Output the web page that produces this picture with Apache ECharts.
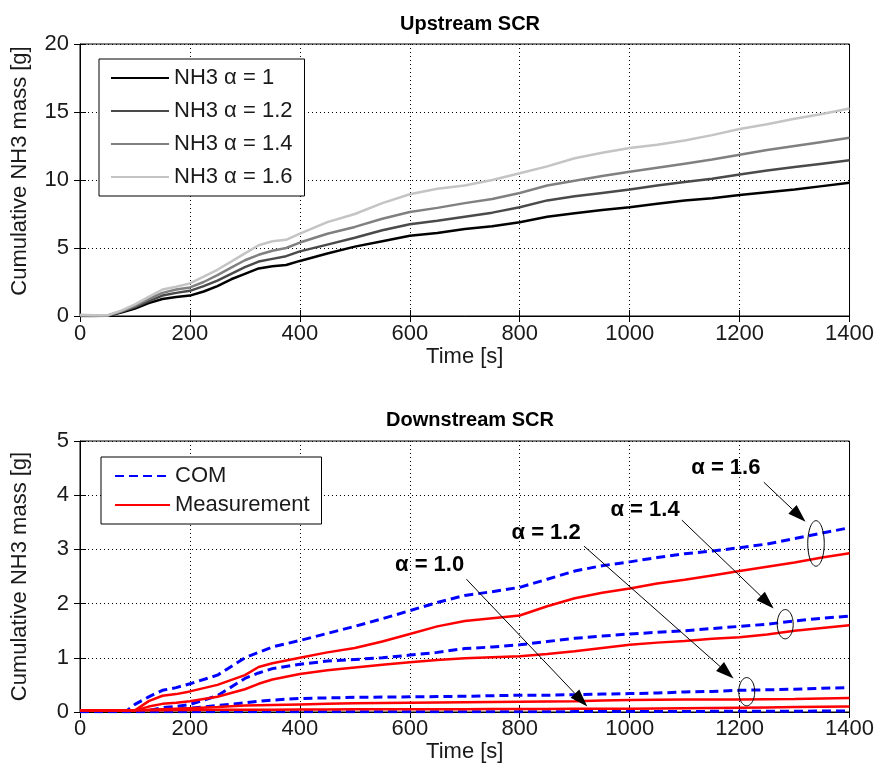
<!DOCTYPE html>
<html>
<head>
<meta charset="utf-8">
<script src="https://cdn.jsdelivr.net/npm/echarts@6/dist/echarts.min.js"></script>
<style>
  html, body { margin: 0; padding: 0; background: #fff; }
  #chart { width: 877px; height: 771px; }
</style>
</head>
<body>
<div id="chart"></div>
<script>
// ---- Upstream SCR: cumulative NH3 mass [g] vs time [s] ----
const upTime = [0, 25, 50, 75, 100, 125, 150, 175, 200, 225, 250, 275, 300, 325, 350, 375, 400,
  450, 500, 550, 600, 650, 700, 750, 800, 850, 900, 950, 1000, 1050, 1100, 1150, 1200, 1250, 1300, 1350, 1400];
const upAlpha10 = [0, 0, 0.02, 0.25, 0.55, 0.95, 1.25, 1.4, 1.5, 1.8, 2.2, 2.7, 3.1, 3.5, 3.65, 3.75, 4.05,
  4.6, 5.1, 5.5, 5.9, 6.1, 6.4, 6.6, 6.9, 7.3, 7.55, 7.8, 8.0, 8.25, 8.5, 8.65, 8.9, 9.1, 9.3, 9.55, 9.8];
const upAlpha12 = [0, 0, 0.03, 0.3, 0.65, 1.1, 1.5, 1.7, 1.85, 2.2, 2.6, 3.1, 3.6, 4.0, 4.2, 4.4, 4.75,
  5.25, 5.75, 6.3, 6.75, 7.0, 7.3, 7.6, 8.0, 8.5, 8.8, 9.05, 9.3, 9.6, 9.85, 10.1, 10.4, 10.7, 10.95, 11.2, 11.45];
const upAlpha14 = [0, 0, 0.04, 0.35, 0.75, 1.25, 1.7, 1.95, 2.1, 2.5, 3.0, 3.55, 4.1, 4.5, 4.8, 5.0, 5.4,
  6.05, 6.55, 7.15, 7.65, 7.95, 8.3, 8.6, 9.05, 9.6, 9.95, 10.3, 10.6, 10.9, 11.2, 11.5, 11.85, 12.2, 12.5, 12.8, 13.1];
const upAlpha16 = [0.1, 0.05, 0.05, 0.4, 0.85, 1.4, 1.95, 2.15, 2.4, 2.9, 3.4, 4.0, 4.6, 5.2, 5.5, 5.6, 6.05,
  6.9, 7.5, 8.3, 8.95, 9.35, 9.6, 10.0, 10.5, 11.0, 11.6, 12.0, 12.35, 12.6, 12.9, 13.3, 13.75, 14.1, 14.5, 14.85, 15.25];
const upNames = ['NH3 \u03b1 = 1', 'NH3 \u03b1 = 1.2', 'NH3 \u03b1 = 1.4', 'NH3 \u03b1 = 1.6'];

// ---- Downstream SCR: COM model vs measurement ----
const downTime = [0, 50, 85, 100, 125, 150, 175, 200, 250, 300, 325, 350, 400, 450, 500, 550, 600,
  650, 700, 750, 800, 850, 900, 950, 1000, 1050, 1100, 1150, 1200, 1250, 1300, 1350, 1400];
const comAlpha16 = [0.01, 0.01, 0.02, 0.14, 0.28, 0.4, 0.45, 0.52, 0.68, 1.0, 1.1, 1.2, 1.32, 1.45, 1.58, 1.72, 1.87,
  2.02, 2.15, 2.22, 2.3, 2.45, 2.6, 2.7, 2.77, 2.85, 2.92, 2.97, 3.03, 3.1, 3.2, 3.3, 3.4];
const comAlpha14 = [0.01, 0.01, 0.01, 0.01, 0.03, 0.08, 0.1, 0.14, 0.3, 0.62, 0.72, 0.8, 0.88, 0.94, 0.97, 1.0, 1.05,
  1.1, 1.17, 1.2, 1.24, 1.3, 1.36, 1.4, 1.44, 1.47, 1.5, 1.54, 1.58, 1.62, 1.68, 1.73, 1.77];
const comAlpha12 = [0.01, 0.01, 0.01, 0.01, 0.02, 0.04, 0.05, 0.07, 0.12, 0.17, 0.2, 0.22, 0.25, 0.26, 0.27, 0.275, 0.28,
  0.285, 0.29, 0.3, 0.31, 0.31, 0.32, 0.33, 0.34, 0.35, 0.37, 0.38, 0.4, 0.41, 0.42, 0.44, 0.45];
const comAlpha10 = [0.005, 0.005, 0.005, 0.005, 0.005, 0.005, 0.005, 0.005, 0.005, 0.005, 0.005, 0.005, 0.005, 0.005, 0.005, 0.005, 0.005,
  0.005, 0.005, 0.005, 0.005, 0.006, 0.007, 0.008, 0.009, 0.01, 0.01, 0.012, 0.013, 0.014, 0.015, 0.017, 0.02];
const measAlpha16 = [0.03, 0.03, 0.03, 0.03, 0.2, 0.3, 0.33, 0.38, 0.5, 0.68, 0.83, 0.9, 1.0, 1.1, 1.18, 1.3, 1.44,
  1.58, 1.68, 1.73, 1.78, 1.95, 2.1, 2.2, 2.28, 2.37, 2.44, 2.52, 2.6, 2.68, 2.76, 2.85, 2.93];
const measAlpha14 = [0.03, 0.03, 0.03, 0.03, 0.1, 0.15, 0.17, 0.2, 0.28, 0.42, 0.52, 0.6, 0.7, 0.77, 0.82, 0.87, 0.92,
  0.96, 0.99, 1.01, 1.03, 1.07, 1.12, 1.18, 1.24, 1.28, 1.31, 1.35, 1.38, 1.43, 1.5, 1.55, 1.6];
const measAlpha12 = [0.03, 0.03, 0.03, 0.03, 0.04, 0.05, 0.06, 0.07, 0.09, 0.12, 0.125, 0.13, 0.14, 0.15, 0.16, 0.165, 0.17,
  0.175, 0.18, 0.185, 0.19, 0.195, 0.2, 0.21, 0.22, 0.225, 0.23, 0.23, 0.23, 0.235, 0.24, 0.25, 0.26];
const measAlpha10 = [0.03, 0.03, 0.03, 0.03, 0.03, 0.03, 0.035, 0.035, 0.04, 0.04, 0.04, 0.04, 0.045, 0.045, 0.05, 0.05, 0.05,
  0.05, 0.052, 0.054, 0.055, 0.056, 0.058, 0.06, 0.06, 0.065, 0.07, 0.075, 0.08, 0.085, 0.09, 0.095, 0.1];

// Callouts on the downstream panel (data coordinates: time [s], mass [g])
const alphaLabels = ['\u03b1 = 1.6', '\u03b1 = 1.4', '\u03b1 = 1.2', '\u03b1 = 1.0'];
const labelAt   = [[1175, 4.5], [1028, 3.73], [848, 3.3], [636, 2.71]];
const arrowFrom = [[1244, 4.24], [1095, 3.54], [917, 3.06], [703, 2.45]];
const arrowTo   = [[1320, 3.51], [1262, 1.91], [1189, 0.62], [923, 0.1]];
// ellipse: centre time, centre mass, half-width [s], half-height [g]
const ringAt    = [[1339, 3.11, 15, 0.42], [1283, 1.62, 14.5, 0.27], [1213, 0.375, 14.5, 0.26], null];

const FONT = '"Liberation Sans", Arial, Helvetica, sans-serif';
const TXT = '#1a1a1a';

function pairs(t, v) { return t.map((x, i) => [x, v[i]]); }
const plainNumber = v => String(v);

function gridBox(top, height) {
  return { left: 80, right: 26, top: top, height: height, show: true,
    borderColor: '#000', borderWidth: 1, backgroundColor: '#fff', containLabel: false };
}
function tickStyle() { return { show: true, inside: true, length: 6, lineStyle: { color: '#000', width: 1 } }; }
function gridLine() { return { show: true, lineStyle: { type: [1, 3], color: '#000', width: 1 } }; }

function xMain(g, gap, margin) {
  return { type: 'value', gridIndex: g, min: 0, max: 1400, interval: 200,
    name: 'Time [s]', nameLocation: 'middle', nameGap: gap,
    nameTextStyle: { fontSize: 22, color: TXT, fontFamily: FONT },
    axisLine: { show: true, onZero: false, lineStyle: { color: '#000', width: 1 } },
    axisTick: tickStyle(),
    axisLabel: { fontSize: 22, color: TXT, fontFamily: FONT, margin: margin, formatter: plainNumber },
    splitLine: gridLine() };
}
function xTop(g) {
  return { type: 'value', gridIndex: g, position: 'top', min: 0, max: 1400, interval: 200,
    axisLine: { show: false }, axisTick: tickStyle(), axisLabel: { show: false }, splitLine: { show: false } };
}
function yMain(g, max, step, namePad) {
  return { type: 'value', gridIndex: g, min: 0, max: max, interval: step,
    name: 'Cumulative NH3 mass [g]', nameLocation: 'middle', nameGap: 49, nameRotate: 90,
    nameTextStyle: { fontSize: 22, color: TXT, fontFamily: FONT, padding: namePad },
    axisLine: { show: true, onZero: false, lineStyle: { color: '#000', width: 1 } },
    axisTick: tickStyle(),
    axisLabel: { fontSize: 22, color: TXT, fontFamily: FONT, margin: 11, formatter: plainNumber },
    splitLine: gridLine() };
}
function yRight(g, max, step) {
  return { type: 'value', gridIndex: g, position: 'right', min: 0, max: max, interval: step,
    axisLine: { show: false }, axisTick: tickStyle(), axisLabel: { show: false }, splitLine: { show: false } };
}

function lineSeries(name, t, v, color, xi, yi, dashed) {
  return { type: 'line', name: name, xAxisIndex: xi, yAxisIndex: yi, data: pairs(t, v),
    symbol: 'none', showSymbol: false, silent: true, animation: false,
    itemStyle: { color: color },
    lineStyle: { color: color, width: dashed ? 3 : 2.5, type: dashed ? [9, 5] : 'solid' } };
}

const upColors = ['#000000', '#4a4a4a', '#808080', '#c4c4c4'];
const upData = [upAlpha10, upAlpha12, upAlpha14, upAlpha16];
const comData = [comAlpha10, comAlpha12, comAlpha14, comAlpha16];
const measData = [measAlpha10, measAlpha12, measAlpha14, measAlpha16];

const series = [];
upData.forEach((v, i) => series.push(lineSeries(upNames[i], upTime, v, upColors[i], 0, 0, false)));
comData.forEach(v => series.push(lineSeries('COM', downTime, v, '#0000ff', 2, 2, true)));
measData.forEach(v => series.push(lineSeries('Measurement', downTime, v, '#ff0000', 2, 2, false)));

// arrows, labels and ellipses of the alpha callouts
series.push({
  type: 'custom', name: 'callouts', xAxisIndex: 2, yAxisIndex: 2, silent: true, animation: false, z: 5,
  data: arrowTo.map(p => [p[0], p[1]]),
  encode: { x: 0, y: 1 },
  renderItem: function (params, api) {
    const i = params.dataIndex;
    const kids = [];
    const p0 = api.coord(arrowFrom[i]);
    const p1 = api.coord(arrowTo[i]);
    const dx = p1[0] - p0[0], dy = p1[1] - p0[1];
    const len = Math.hypot(dx, dy), ux = dx / len, uy = dy / len;
    const hl = 18, hw = 6;
    const bx = p1[0] - ux * hl, by = p1[1] - uy * hl;
    kids.push({ type: 'line', shape: { x1: p0[0], y1: p0[1], x2: bx, y2: by },
      style: { stroke: '#000', lineWidth: 1 } });
    kids.push({ type: 'polygon',
      shape: { points: [[p1[0], p1[1]], [bx - uy * hw, by + ux * hw], [bx + uy * hw, by - ux * hw]] },
      style: { fill: '#000' } });
    const lp = api.coord(labelAt[i]);
    kids.push({ type: 'text', x: lp[0], y: lp[1],
      style: { text: alphaLabels[i], font: 'bold 22px ' + FONT, fill: '#000', align: 'center', verticalAlign: 'middle' } });
    const r = ringAt[i];
    if (r) {
      const c = api.coord([r[0], r[1]]);
      const rx = Math.abs(api.coord([r[0] + r[2], r[1]])[0] - c[0]);
      const ry = Math.abs(api.coord([r[0], r[1] + r[3]])[1] - c[1]);
      const pts = [];
      for (let k = 0; k < 64; k++) {
        const a = k / 64 * Math.PI * 2;
        pts.push([c[0] + rx * Math.cos(a), c[1] + ry * Math.sin(a)]);
      }
      kids.push({ type: 'polygon', shape: { points: pts }, style: { fill: 'none', stroke: '#000', lineWidth: 1 } });
    }
    return { type: 'group', children: kids };
  }
});

const legendText = { fontSize: 22, color: TXT, fontFamily: FONT, lineHeight: 22 };
const legendBox = {
  orient: 'vertical', selectedMode: false, itemHeight: 10,
  backgroundColor: '#fff', borderColor: '#000', borderWidth: 1, borderRadius: 0,
  itemStyle: { opacity: 0 }, textStyle: legendText
};

const option = {
  backgroundColor: '#fff',
  animation: false,
  title: [
    { text: 'Upstream SCR', left: 465, top: 9, textAlign: 'center',
      textStyle: { fontSize: 20, fontWeight: 'bold', color: '#000', fontFamily: FONT } },
    { text: 'Downstream SCR', left: 465, top: 405, textAlign: 'center',
      textStyle: { fontSize: 20, fontWeight: 'bold', color: '#000', fontFamily: FONT } }
  ],
  grid: [gridBox(44, 272), gridBox(441, 271)],
  xAxis: [xMain(0, 30, 7), xTop(0), xMain(1, 28, 6), xTop(1)],
  yAxis: [yMain(0, 20, 5, [0, 0, 0, 18]), yRight(0, 20, 5), yMain(1, 5, 1, 0), yRight(1, 5, 1)],
  legend: [
    Object.assign({}, legendBox, { data: upNames, left: 99, top: 59,
      itemWidth: 58, itemGap: 11, padding: [8, 12, 8, 11] }),
    Object.assign({}, legendBox, { data: ['COM', 'Measurement'], left: 101, top: 457,
      itemWidth: 55, itemGap: 7, padding: [8, 12, 8, 13] })
  ],
  series: series
};

const chart = echarts.init(document.getElementById('chart'), null, { renderer: 'canvas' });
chart.setOption(option);
</script>
</body>
</html>
